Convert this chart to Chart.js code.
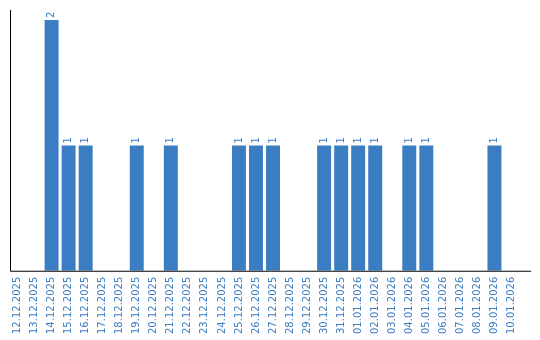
<!DOCTYPE html>
<html>
<head>
<meta charset="utf-8">
<script src="https://cdn.jsdelivr.net/npm/chart.js@4"></script>
<style>
  html, body { margin: 0; padding: 0; background: #fff; }
  #wrap { width: 540px; height: 340px; }
</style>
</head>
<body>
<div id="wrap"><canvas id="chart"></canvas></div>
<script>
// Data
const dates = [
  '12.12.2025', '13.12.2025', '14.12.2025', '15.12.2025', '16.12.2025', '17.12.2025',
  '18.12.2025', '19.12.2025', '20.12.2025', '21.12.2025', '22.12.2025', '23.12.2025',
  '24.12.2025', '25.12.2025', '26.12.2025', '27.12.2025', '28.12.2025', '29.12.2025',
  '30.12.2025', '31.12.2025', '01.01.2026', '02.01.2026', '03.01.2026', '04.01.2026',
  '05.01.2026', '06.01.2026', '07.01.2026', '08.01.2026', '09.01.2026', '10.01.2026'
];
const counts = [
  0, 0, 2, 1, 1, 0,
  0, 1, 0, 1, 0, 0,
  0, 1, 1, 1, 0, 0,
  1, 1, 1, 1, 0, 1,
  1, 0, 0, 0, 1, 0
];

const blue = '#3a7dc2';
const fontFamily = '"DejaVu Sans", Verdana, sans-serif';

// draws the value above each bar, rotated like the tick labels
const valueLabels = {
  id: 'valueLabels',
  afterDatasetsDraw(chart) {
    const ctx = chart.ctx;
    const meta = chart.getDatasetMeta(0);
    ctx.save();
    ctx.fillStyle = blue;
    ctx.font = '10px ' + fontFamily;
    ctx.textAlign = 'left';
    ctx.textBaseline = 'middle';
    meta.data.forEach((bar, i) => {
      if (!counts[i]) return;
      ctx.save();
      ctx.translate(bar.x, bar.y - 2);
      ctx.rotate(-Math.PI / 2);
      ctx.fillText(String(counts[i]), 0, 0);
      ctx.restore();
    });
    ctx.restore();
  }
};

// axis lines (x line runs a bit past the last category)
const axisLines = {
  id: 'axisLines',
  afterDraw(chart) {
    const { ctx, chartArea } = chart;
    ctx.save();
    ctx.strokeStyle = '#000';
    ctx.lineWidth = 1;
    ctx.beginPath();
    ctx.moveTo(10.5, chartArea.top);
    ctx.lineTo(10.5, chartArea.bottom + 0.5);
    ctx.lineTo(531, chartArea.bottom + 0.5);
    ctx.stroke();
    ctx.restore();
  }
};

new Chart(document.getElementById('chart').getContext('2d'), {
  type: 'bar',
  data: {
    labels: dates,
    datasets: [{
      data: counts,
      backgroundColor: blue,
      categoryPercentage: 1,
      barPercentage: 0.82
    }]
  },
  options: {
    responsive: true,
    maintainAspectRatio: false,
    animation: false,
    layout: { padding: { left: 9, right: 20, top: 10, bottom: 0 } },
    plugins: {
      legend: { display: false },
      tooltip: { enabled: false }
    },
    scales: {
      x: {
        grid: { display: false, drawTicks: false },
        border: { display: false },
        ticks: {
          color: blue,
          font: { family: fontFamily, size: 10 },
          minRotation: 90,
          maxRotation: 90,
          autoSkip: false,
          padding: 6
        }
      },
      y: {
        display: false,
        min: 0,
        max: 2.08
      }
    }
  },
  plugins: [valueLabels, axisLines]
});
</script>
</body>
</html>
